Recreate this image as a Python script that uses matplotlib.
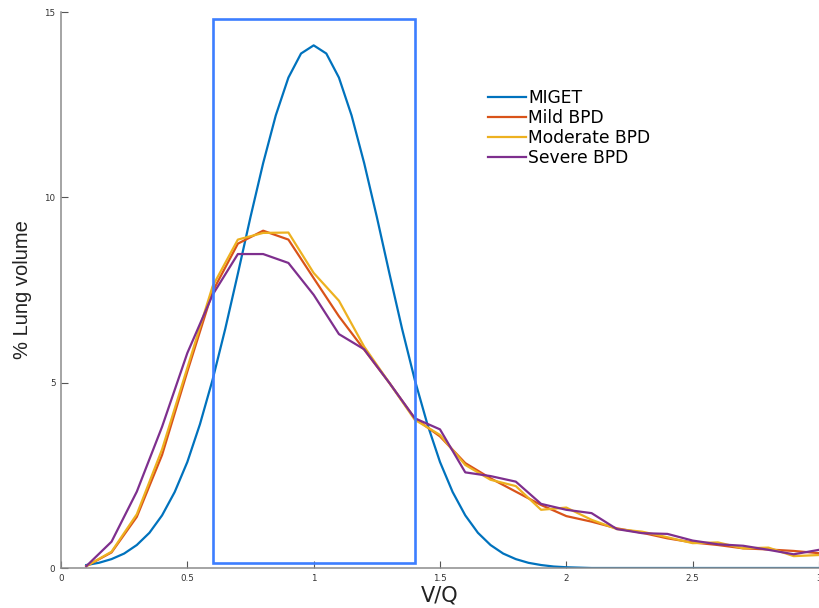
import numpy as np
import matplotlib
matplotlib.use('Agg')
import matplotlib.pyplot as plt
from matplotlib.patches import Rectangle

# MIGET curve sampled every 0.05 from 0.1 to 3.0
miget_x = np.round(np.arange(0.1, 3.0001, 0.05), 2)
miget_y = [0.08, 0.14, 0.24, 0.39, 0.62, 0.95, 1.42, 2.05, 2.86, 3.88,
           5.08, 6.45, 7.94, 9.47, 10.92, 12.21, 13.23, 13.88, 14.10, 13.88,
           13.23, 12.21, 10.92, 9.47, 7.94, 6.45, 5.08, 3.88, 2.86, 2.05,
           1.42, 0.95, 0.62, 0.39, 0.24, 0.14, 0.08, 0.04, 0.02, 0.01,
           0.0, 0.0, 0.0, 0.0, 0.0, 0.0, 0.0, 0.0, 0.0, 0.0,
           0.0, 0.0, 0.0, 0.0, 0.0, 0.0, 0.0, 0.0, 0.0]

# BPD curves sampled every 0.1 from 0.1 to 3.0
bpd_x = np.round(np.arange(0.1, 3.0001, 0.1), 1)
mild_y = [0.05, 0.42, 1.38, 3.05, 5.30, 7.46, 8.75, 9.10, 8.86, 7.82,
          6.79, 5.89, 4.99, 4.04, 3.55, 2.83, 2.42, 2.06, 1.70, 1.40,
          1.25, 1.07, 0.95, 0.80, 0.69, 0.62, 0.53, 0.50, 0.46, 0.40]
moderate_y = [0.05, 0.44, 1.45, 3.20, 5.40, 7.60, 8.86, 9.04, 9.05, 7.96,
              7.21, 5.97, 4.99, 4.00, 3.59, 2.78, 2.38, 2.21, 1.57, 1.63,
              1.30, 1.05, 0.98, 0.83, 0.67, 0.69, 0.53, 0.55, 0.32, 0.35]
severe_y = [0.05, 0.71, 2.06, 3.81, 5.80, 7.37, 8.47, 8.47, 8.23, 7.37,
            6.31, 5.90, 4.99, 4.04, 3.74, 2.58, 2.48, 2.33, 1.73, 1.57,
            1.48, 1.05, 0.94, 0.92, 0.74, 0.64, 0.60, 0.49, 0.37, 0.49]

# highlighted V/Q window
box_x = [0.6, 1.4]
box_y = [0.13, 14.82]

fig = plt.figure(figsize=(8.19, 6.08), dpi=100)
ax = fig.add_axes([61 / 819, 40 / 608, 758 / 819, 556 / 608])

ax.plot(miget_x, miget_y, color='#0072BD', lw=1.6, label='MIGET')
ax.plot(bpd_x, mild_y, color='#D95319', lw=1.6, label='Mild BPD')
ax.plot(bpd_x, moderate_y, color='#EDB120', lw=1.6, label='Moderate BPD')
ax.plot(bpd_x, severe_y, color='#7E2F8E', lw=1.6, label='Severe BPD')

ax.add_patch(Rectangle((box_x[0], box_y[0]), box_x[1] - box_x[0], box_y[1] - box_y[0],
                       fill=False, edgecolor='#3D7EFF', lw=1.9, zorder=5))

ax.set_xlim(0, 3)
ax.set_ylim(0, 15)
ax.set_xticks([0, 0.5, 1, 1.5, 2, 2.5, 3])
ax.set_xticklabels(['0', '0.5', '1', '1.5', '2', '2.5', '3'])
ax.set_yticks([0, 5, 10, 15])

for side in ['top', 'right']:
    ax.spines[side].set_visible(False)
for side in ['left', 'bottom']:
    ax.spines[side].set_color('#8c8c8c')
    ax.spines[side].set_linewidth(1.1)
ax.tick_params(direction='in', length=5, width=0.8, color='#555555',
               labelsize=6.3, labelcolor='#333333', pad=4)

ax.set_xlabel('V/Q', fontsize=15, color='#222222', labelpad=2)
ax.set_ylabel('% Lung volume', fontsize=14.5, color='#222222',
              family='Liberation Sans', labelpad=9)

ax.legend(loc='upper left', bbox_to_anchor=(488 / 819, 1 - 89 / 608),
          bbox_transform=fig.transFigure, frameon=False, fontsize=12.3,
          handlelength=2.2, handletextpad=0.15, labelspacing=0.12, borderpad=0,
          borderaxespad=0)

plt.savefig('out.png', dpi=100)
